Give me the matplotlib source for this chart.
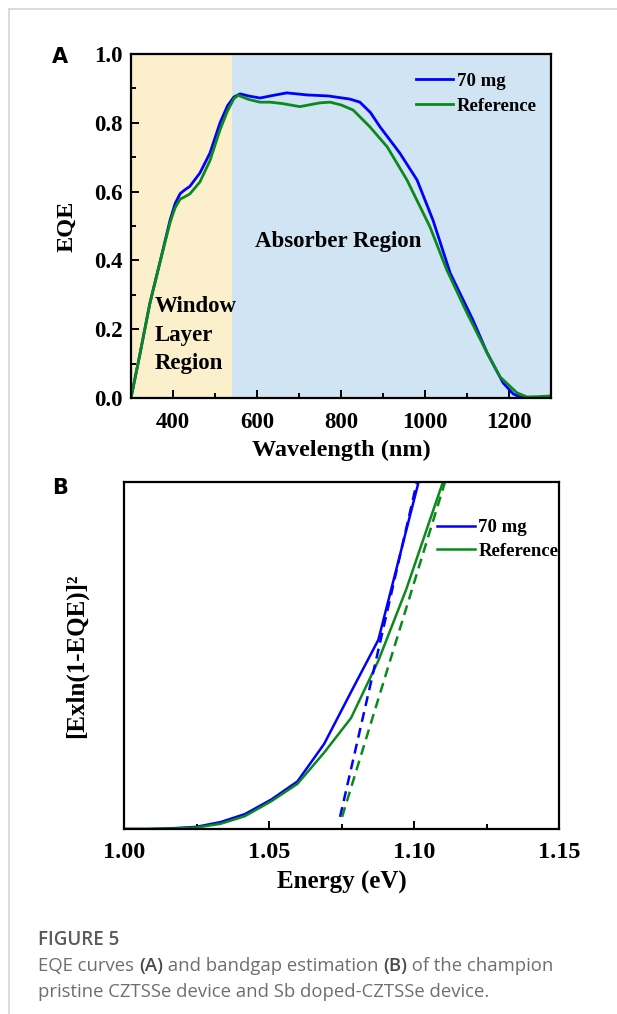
import numpy as np
import matplotlib
matplotlib.use('Agg')
import matplotlib.pyplot as plt
from matplotlib.ticker import MultipleLocator

# -- PANEL A: EQE SPECTRA
wl_70 = [300, 320, 345, 370, 393, 405, 417, 428, 440, 464, 488, 512, 530, 545,
         560, 580, 607, 640, 671, 719, 770, 821, 845, 870, 893, 940, 981, 1019,
         1060, 1114, 1148, 1186, 1210, 1226, 1250, 1300]
eqe_70 = [0.0, 0.12, 0.276, 0.40, 0.517, 0.565, 0.594, 0.605, 0.615, 0.654,
          0.712, 0.80, 0.85, 0.875, 0.884, 0.878, 0.872, 0.880, 0.887, 0.881,
          0.878, 0.869, 0.86, 0.83, 0.788, 0.712, 0.634, 0.517, 0.363, 0.227,
          0.131, 0.044, 0.012, 0.003, 0.0, 0.003]
wl_ref = [300, 320, 345, 370, 393, 405, 417, 428, 440, 464, 488, 512, 530, 545,
          555, 580, 607, 631, 660, 702, 750, 774, 800, 829, 869, 910, 957, 1012,
          1052, 1100, 1148, 1179, 1219, 1243, 1270, 1300]
eqe_ref = [0.0, 0.12, 0.275, 0.40, 0.51, 0.553, 0.578, 0.585, 0.593, 0.628,
           0.69, 0.78, 0.835, 0.87, 0.88, 0.868, 0.86, 0.86, 0.856, 0.847,
           0.858, 0.86, 0.852, 0.837, 0.788, 0.73, 0.634, 0.497, 0.372, 0.247,
           0.131, 0.061, 0.015, 0.003, 0.004, 0.006]
window_edge = 540

# -- PANEL B: BANDGAP PLOT
E_pts = [1.0, 1.0081, 1.0164, 1.0248, 1.0333, 1.0417, 1.0508, 1.0598, 1.0690,
         1.0783, 1.0877, 1.0973, 1.1071, 1.1170]
f_70 = [0.0, 0.0, 0.002, 0.006, 0.02, 0.043, 0.085, 0.137, 0.245, 0.395, 0.545,
        0.86, 1.18, 1.5]
f_ref = [0.0, 0.0, 0.001, 0.004, 0.015, 0.037, 0.08, 0.13, 0.22, 0.32, 0.485,
         0.69, 0.93, 1.17]
fit_70_E = [1.0745, 1.1010]
fit_70_f = [0.035, 1.0]
fit_ref_E = [1.0752, 1.1107]
fit_ref_f = [0.035, 1.0]

BLUE = '#0000ff'
GREEN = '#0a8a1a'
SERIF = 'Liberation Serif'

plt.rcParams['font.family'] = SERIF
plt.rcParams['font.weight'] = 'bold'
plt.rcParams['axes.labelweight'] = 'bold'

fig = plt.figure(figsize=(6.17, 10.14), dpi=100)
W, H = 617.0, 1014.0


def px_axes(l, t, r, b):
    return fig.add_axes([l / W, 1 - b / H, (r - l) / W, (b - t) / H])


def style(ax, size, xpad):
    for s in ax.spines.values():
        s.set_linewidth(1.6)
    ax.tick_params(which='both', direction='in', top=False, right=False,
                   labelsize=size, width=1.4, pad=6)
    ax.tick_params(axis='x', which='both', pad=xpad)
    ax.tick_params(which='major', length=6)
    ax.tick_params(which='minor', length=3.5)


# -- FRAME LINES
fig.add_artist(plt.Line2D([9 / W, 9 / W], [0, 1 - 9 / H], color='#d4d4d4', lw=1.2))
fig.add_artist(plt.Line2D([9 / W, 1], [1 - 9 / H, 1 - 9 / H], color='#d4d4d4', lw=1.2))

# -- PANEL A
axA = px_axes(131, 54, 551, 398)
axA.axvspan(300, window_edge, color='#fcefcc', lw=0)
axA.axvspan(window_edge, 1300, color='#d0e4f3', lw=0)
axA.plot(wl_70, eqe_70, color=BLUE, lw=2.0, label='70 mg')
axA.plot(wl_ref, eqe_ref, color=GREEN, lw=2.0, label='Reference')
axA.set_xlim(300, 1300)
axA.set_ylim(0, 1.0)
axA.xaxis.set_major_locator(MultipleLocator(200))
axA.xaxis.set_minor_locator(MultipleLocator(100))
axA.yaxis.set_major_locator(MultipleLocator(0.2))
axA.yaxis.set_minor_locator(MultipleLocator(0.1))
axA.set_xticks([400, 600, 800, 1000, 1200])
axA.yaxis.set_major_formatter(plt.FuncFormatter(lambda v, p: '%.1f' % v))
style(axA, 16.5, 10)
axA.set_xlabel('Wavelength (nm)', fontsize=17.5, labelpad=5)
axA.set_ylabel('EQE', fontsize=17.5, labelpad=12)
axA.text(0.057, 0.183, 'Window\nLayer\nRegion', transform=axA.transAxes,
         fontsize=16.5, va='center', ha='left', linespacing=1.45)
axA.text(0.295, 0.455, 'Absorber Region', transform=axA.transAxes,
         fontsize=16.5, va='center', ha='left')
axA.legend(loc='upper left', bbox_to_anchor=(0.678, 0.945), frameon=False,
           fontsize=13.5, handlelength=2.0, handletextpad=0.2, labelspacing=0.4,
           borderpad=0, borderaxespad=0)
fig.text(52 / W, 1 - 57 / H, 'A', family='DejaVu Sans', fontsize=15,
         weight='bold', va='center', ha='left')

# -- PANEL B
axB = px_axes(124, 482, 559, 829)
axB.plot(E_pts, f_70, color=BLUE, lw=1.8, label='70 mg')
axB.plot(E_pts, f_ref, color=GREEN, lw=1.8, label='Reference')
axB.plot(fit_70_E, fit_70_f, color=BLUE, lw=1.8, ls=(0, (4, 2.5)))
axB.plot(fit_ref_E, fit_ref_f, color=GREEN, lw=1.8, ls=(0, (4, 2.5)))
axB.set_xlim(1.0, 1.15)
axB.set_ylim(0, 1.0)
axB.xaxis.set_major_locator(MultipleLocator(0.05))
axB.xaxis.set_minor_locator(MultipleLocator(0.025))
axB.xaxis.set_major_formatter(plt.FuncFormatter(lambda v, p: '%.2f' % v))
axB.set_yticks([])
style(axB, 17.5, 9)
axB.set_xlabel('Energy (eV)', fontsize=18, labelpad=6)
axB.set_ylabel('[Exln(1-EQE)]²', fontsize=18, labelpad=26)
axB.legend(loc='upper left', bbox_to_anchor=(0.72, 0.893), frameon=False,
           fontsize=13.5, handlelength=2.0, handletextpad=0.2, labelspacing=0.35,
           borderpad=0, borderaxespad=0)
fig.text(52 / W, 1 - 488 / H, 'B', family='DejaVu Sans', fontsize=15,
         weight='bold', va='center', ha='left')

# -- CAPTION
CAP = 'Open Sans'
fig.text(38 / W, 1 - 940 / H, 'FIGURE 5', family=CAP, fontsize=13.5,
         weight='semibold', color='#5a5a5a', va='center')

renderer = fig.canvas.get_renderer()


def run_text(x, y, pieces):
    for s, bold in pieces:
        t = fig.text(x / W, 1 - y / H, s, family=CAP, fontsize=13.3,
                     weight='semibold' if bold else 'normal',
                     color='#4a4a4a' if bold else '#6e6e6e', va='center')
        x += t.get_window_extent(renderer).width


run_text(38, 966, [('EQE curves ', False), ('(A)', True),
                   (' and bandgap estimation ', False), ('(B)', True),
                   (' of the champion', False)])
run_text(38, 992, [('pristine CZTSSe device and Sb doped-CZTSSe device.', False)])

fig.savefig('out.png', dpi=100)
